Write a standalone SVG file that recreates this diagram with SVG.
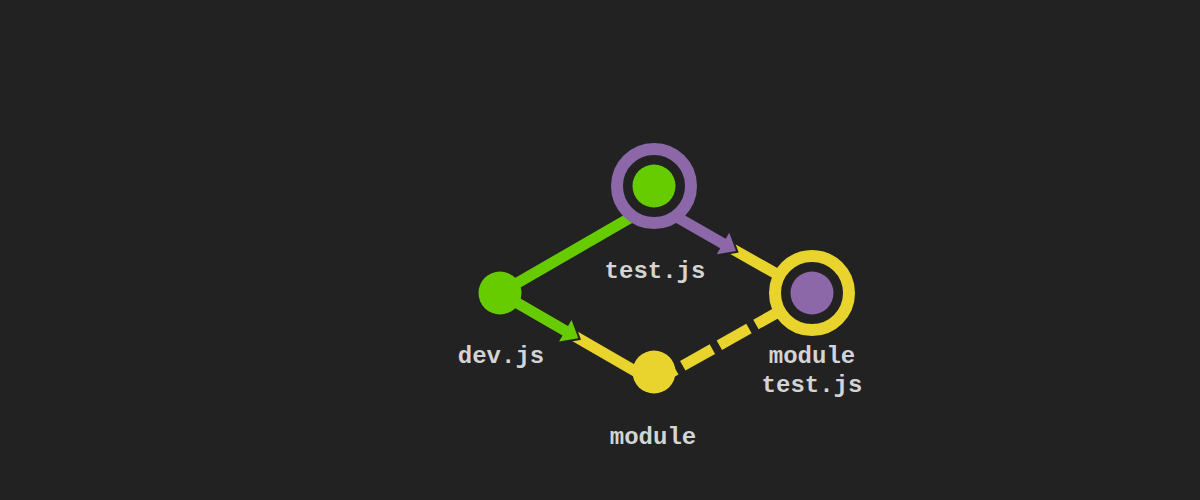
<svg xmlns="http://www.w3.org/2000/svg" width="1200" height="500" viewBox="0 0 1200 500">
<style>
.bg{fill:#222222}
.ln{fill:none;stroke-width:11;stroke-linecap:butt}
.g{stroke:#66cc00}
.p{stroke:#8c68a8}
.y{stroke:#e8d42c}
.ring{fill:#222222;stroke-width:12}
.ol{fill:#222222;stroke:#222222;stroke-width:4;stroke-linejoin:miter}
.lbl{font-family:"Liberation Mono","DejaVu Sans Mono",monospace;font-weight:bold;font-size:24px;fill:#d4d4d4;text-anchor:middle}
</style>
<rect class="bg" x="0" y="0" width="1200" height="500"/>
<g id="connectors">
  <g id="edge-dev-test">
    <line class="ln g" x1="500" y1="293" x2="654" y2="204"/>
  </g>
  <g id="edge-dev-module">
    <line class="ln y" x1="573.1" y1="335.3" x2="654" y2="382"/>
    <polygon class="ol" points="578.3,338.3 559.05,341.6 571.55,320"/>
    <line class="ln g" x1="500" y1="293" x2="567" y2="331.8"/>
    <polygon fill="#66cc00" points="578.3,338.3 559.05,341.6 571.55,320"/>
  </g>
  <g id="edge-test-moduletest">
    <line class="ln y" x1="730.8" y1="248" x2="812" y2="294"/>
    <polygon class="ol" points="736,251 716.75,254.3 729.25,232.7"/>
    <line class="ln p" x1="654" y1="204" x2="724.7" y2="244.5"/>
    <polygon fill="#8c68a8" points="736,251 716.75,254.3 729.25,232.7"/>
  </g>
  <g id="edge-module-moduletest">
    <line class="ln y" x1="654" y1="382" x2="812" y2="293" stroke-dasharray="34 8" stroke-dashoffset="9"/>
  </g>
</g>
<g id="node-dev">
  <circle cx="500" cy="293" r="21.5" fill="#66cc00"/>
  <text class="lbl" x="501" y="363">dev.js</text>
</g>
<g id="node-test">
  <circle class="ring" cx="654" cy="186" r="37" stroke="#8c68a8"/>
  <circle cx="654" cy="186" r="21.5" fill="#66cc00"/>
  <text class="lbl" x="655" y="278">test.js</text>
</g>
<g id="node-module">
  <circle cx="654" cy="372" r="21.5" fill="#e8d42c"/>
  <text class="lbl" x="653" y="444">module</text>
</g>
<g id="node-moduletest">
  <circle class="ring" cx="812" cy="293" r="37" stroke="#e8d42c"/>
  <circle cx="812" cy="293" r="21.5" fill="#8c68a8"/>
  <text class="lbl" x="812" y="363">module</text>
  <text class="lbl" x="812" y="391.5">test.js</text>
</g>
</svg>
